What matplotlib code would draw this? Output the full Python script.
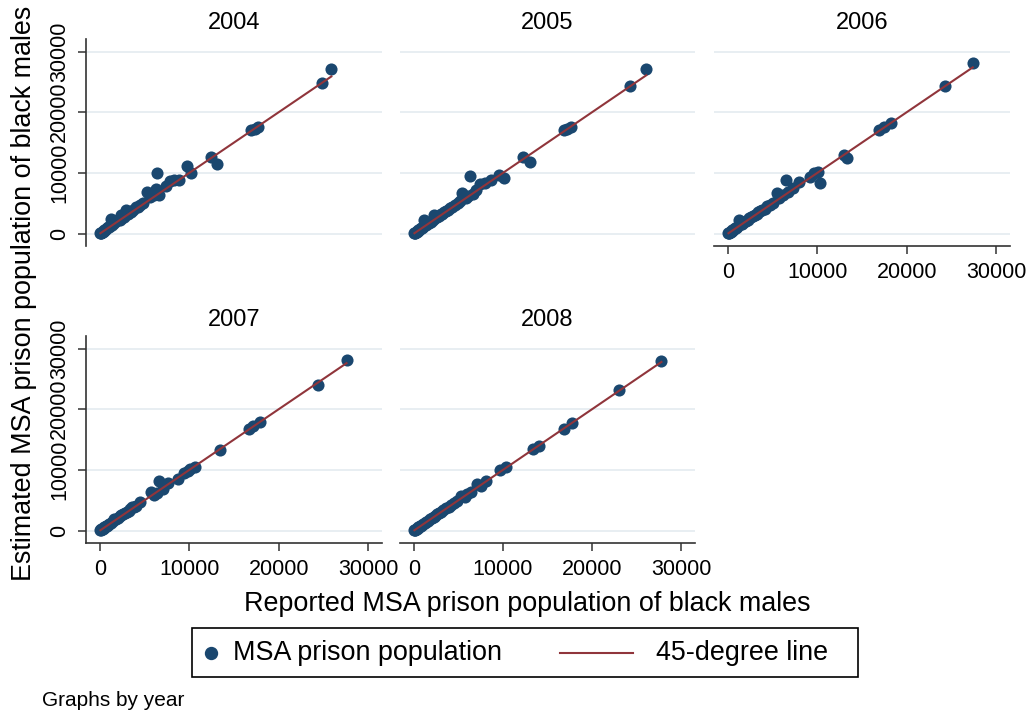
import matplotlib
matplotlib.use('Agg')
import matplotlib.pyplot as plt
from matplotlib.lines import Line2D
from matplotlib.patches import Rectangle

plt.rcParams['font.family'] = ['Liberation Sans', 'DejaVu Sans']

# reported vs. estimated MSA prison population of black males, by year
years = [2004, 2005, 2006, 2007, 2008]

reported_2004 = [50, 100, 150, 200, 300, 400, 500, 600, 700, 800,
                 900, 1000, 1100, 1200, 1300, 1500, 1600, 1800, 2000, 2200,
                 2300, 2500, 2700, 2900, 3100, 3300, 3500, 3700, 4000, 4200,
                 4500, 4800, 5300, 5600, 6000, 6300, 6400, 6600, 7400, 7800,
                 8300, 8850, 9700, 10200, 12400, 13050, 16900, 17300, 17700, 24900,
                 25900]
estimated_2004 = [80, 150, 130, 260, 330, 420, 580, 640, 760, 850,
                  1000, 1100, 1250, 2400, 1400, 1700, 1750, 2000, 2250, 2300,
                  3000, 2600, 2800, 3800, 3200, 3500, 3600, 3900, 4300, 4400,
                  4700, 5000, 6800, 6100, 6300, 7400, 10000, 6400, 7800, 8700,
                  8800, 8800, 11100, 10000, 12600, 11500, 17000, 17200, 17500, 24900,
                  27100]

reported_2005 = [50, 100, 150, 200, 300, 400, 500, 600, 700, 800,
                 900, 1000, 1100, 1300, 1500, 1700, 1900, 2100, 2200, 2400,
                 2600, 2800, 3000, 3200, 3400, 3600, 3800, 4000, 4300, 4600,
                 4900, 5200, 5400, 5800, 6100, 6300, 6600, 7000, 7400, 8000,
                 8700, 9500, 10100, 12300, 13000, 16900, 17200, 17600, 24300, 26100]
estimated_2005 = [60, 130, 140, 250, 320, 430, 560, 620, 750, 850,
                  950, 1050, 2300, 1400, 1550, 1800, 1900, 2200, 3000, 2500,
                  2700, 2900, 3200, 3300, 3600, 3700, 3900, 4200, 4400, 4700,
                  5100, 5300, 6700, 5900, 6200, 9500, 6500, 7100, 8200, 8400,
                  8800, 9700, 9100, 12600, 11800, 17000, 17200, 17500, 24300, 27200]

reported_2006 = [50, 100, 150, 200, 300, 400, 500, 600, 700, 800,
                 900, 1000, 1200, 1400, 1600, 1800, 2000, 2200, 2400, 2600,
                 2800, 3000, 3200, 3400, 3600, 3800, 4100, 4400, 4700, 5000,
                 5500, 5700, 6200, 6450, 6700, 7300, 7900, 9200, 9600, 10100,
                 10300, 12950, 13300, 16900, 17500, 18200, 24300, 27400]
estimated_2006 = [70, 120, 160, 240, 310, 420, 540, 650, 730, 830,
                  950, 1050, 2200, 1500, 1650, 1900, 2050, 2300, 2500, 2700,
                  2900, 3100, 3300, 3500, 3700, 3900, 4100, 4500, 4700, 5100,
                  6600, 5800, 6300, 8900, 6800, 7500, 8500, 9300, 10000, 10200,
                  8400, 12950, 12400, 17000, 17600, 18300, 24400, 28200]

reported_2007 = [50, 100, 150, 200, 300, 400, 500, 600, 700, 800,
                 900, 1000, 1200, 1400, 1600, 1800, 2000, 2200, 2400, 2600,
                 2800, 3000, 3200, 3400, 3600, 3800, 4000, 4500, 5700, 6000,
                 6400, 6650, 7000, 7600, 8700, 9450, 9800, 10100, 10600, 13400,
                 16700, 17100, 17900, 24400, 27600]
estimated_2007 = [60, 110, 170, 230, 320, 420, 520, 640, 730, 820,
                  940, 1030, 1300, 1500, 1900, 1900, 2100, 2400, 2500, 2700,
                  2900, 3100, 3300, 3500, 3800, 3900, 4100, 4700, 6300, 5800,
                  6200, 8200, 6900, 7800, 8500, 9500, 9800, 10200, 10500, 13200,
                  16800, 17200, 17900, 24000, 28100]

reported_2008 = [50, 100, 150, 200, 300, 400, 500, 600, 700, 800,
                 900, 1000, 1200, 1400, 1600, 1800, 2000, 2200, 2400, 2600,
                 2800, 3000, 3300, 3600, 3900, 4200, 4500, 4800, 5300, 5700,
                 6000, 6400, 7100, 7500, 8100, 9700, 10300, 13400, 14100, 16800,
                 17700, 23000, 27800]
estimated_2008 = [60, 110, 160, 220, 310, 410, 530, 620, 720, 820,
                  930, 1020, 1250, 1450, 1650, 1850, 2050, 2250, 2450, 2650,
                  2850, 3050, 3350, 3650, 3950, 4200, 4550, 4850, 5700, 5600,
                  6050, 6350, 7700, 7300, 8200, 9900, 10400, 13400, 14000, 16700,
                  17700, 23100, 28000]

reported = [reported_2004, reported_2005, reported_2006, reported_2007, reported_2008]
estimated = [estimated_2004, estimated_2005, estimated_2006, estimated_2007, estimated_2008]

ticks = [0, 10000, 20000, 30000]
tick_labels = ['0', '10000', '20000', '30000']

navy = '#1a476f'
maroon = '#90353b'
grid_col = '#e8eef2'
axis_col = '#333333'

W, H = 1031, 713
fig = plt.figure(figsize=(W / 100, H / 100), dpi=100)


def px_rect(x0, y0, x1, y1):
    # pixel box (top-left origin) -> figure fraction [left, bottom, width, height]
    return [x0 / W, 1 - y1 / H, (x1 - x0) / W, (y1 - y0) / H]


# panel boxes, left column keeps y axis, bottom edge keeps x axis
panels = {
    2004: ((86, 39, 382, 246), True, False),
    2005: ((400, 39, 695, 246), False, False),
    2006: ((714, 39, 1010, 246), False, True),
    2007: ((86, 336, 382, 543), True, True),
    2008: ((400, 336, 695, 543), False, True),
}

for yr, xs, ys in zip(years, reported, estimated):
    box, show_y, show_x = panels[yr]
    ax = fig.add_axes(px_rect(*box))
    ax.scatter(xs, ys, s=76, color=navy, linewidths=0, zorder=3)
    lo, hi = min(xs), max(xs)
    ax.plot([lo, hi], [lo, hi], color=maroon, lw=1.5, zorder=4)

    ax.set_xlim(-1570, 31570)
    ax.set_ylim(-2060, 32080)
    ax.set_xticks(ticks)
    ax.set_xticklabels(tick_labels)
    ax.set_yticks(ticks)
    ax.set_yticklabels(tick_labels, rotation=90, va='center')
    ax.yaxis.grid(True, color=grid_col, lw=1.4)
    ax.set_axisbelow(True)
    ax.set_title(str(yr), fontsize=17, pad=7)

    for s in ['top', 'right']:
        ax.spines[s].set_visible(False)
    ax.spines['left'].set_visible(show_y)
    ax.spines['bottom'].set_visible(show_x)
    for s in ['left', 'bottom']:
        ax.spines[s].set_color(axis_col)
        ax.spines[s].set_linewidth(1.2)
    ax.tick_params(axis='both', labelsize=15.5, length=5.5, width=1.1,
                   color=axis_col, pad=6)
    if not show_y:
        ax.tick_params(axis='y', left=False, labelleft=False)
    if not show_x:
        ax.tick_params(axis='x', bottom=False, labelbottom=False)

fig.text(24 / W, 1 - 293 / H, 'Estimated MSA prison population of black males',
         rotation=90, ha='center', va='center', fontsize=19.4)
fig.text(527 / W, 1 - 604 / H, 'Reported MSA prison population of black males',
         ha='center', va='center', fontsize=19.4)

# legend drawn by hand so the marker key stays short
fig.add_artist(Rectangle((192 / W, 1 - 677 / H), 666 / W, 49 / H,
                         transform=fig.transFigure, fill=False,
                         edgecolor='black', lw=1.2))
fig.add_artist(Line2D([211 / W], [1 - 653 / H], transform=fig.transFigure,
                      marker='o', markersize=8.6, color=navy, lw=0))
fig.text(233 / W, 1 - 653 / H, 'MSA prison population', ha='left',
         va='center', fontsize=19.4)
fig.add_artist(Line2D([560 / W, 633 / W], [1 - 653 / H, 1 - 653 / H],
                      transform=fig.transFigure, color=maroon, lw=1.5))
fig.text(656 / W, 1 - 653 / H, '45-degree line', ha='left', va='center',
         fontsize=19.4)

fig.text(42 / W, 1 - 701 / H, 'Graphs by year', ha='left', va='center',
         fontsize=15)

fig.savefig('out.png', dpi=100)
